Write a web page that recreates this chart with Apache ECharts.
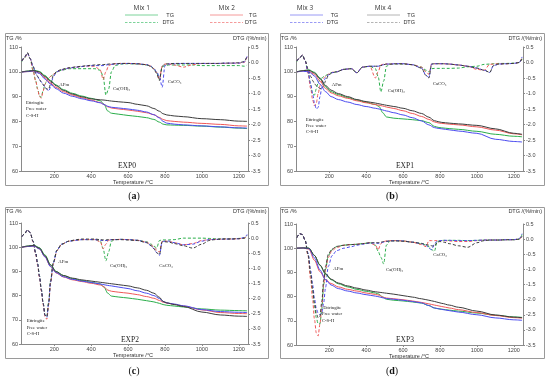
<!DOCTYPE html>
<html><head><meta charset="utf-8">
<script src="https://cdn.jsdelivr.net/npm/echarts@6/dist/echarts.min.js"></script>
<style>html,body{margin:0;padding:0;background:#fff}#c{width:550px;height:379px}</style>
</head><body><div id="c"></div>
<script>
// ---------- data ----------
const tgTemps = [25, 60, 90, 120, 150, 180, 210, 250, 300, 350, 400, 450, 470, 490, 510, 550, 600, 650, 700, 740, 770, 790, 810, 850, 900, 1000, 1100, 1200, 1245];
const dtgTemps = [25, 40, 55, 70, 85, 100, 110, 120, 130, 140, 150, 160, 170, 180, 195, 215, 240, 280, 320, 350, 380, 420, 450, 465, 480, 495, 510, 530, 560, 600, 650, 700, 725, 740, 755, 770, 785, 800, 820, 850, 900, 950, 1000, 1040, 1070, 1090, 1120, 1160, 1200, 1230, 1245];
const xTickValues = [200, 400, 600, 800, 1000, 1200];
const mixNames = ['Mix 1', 'Mix 2', 'Mix 3', 'Mix 4'];
const panelNames = ['EXP0', 'EXP1', 'EXP2', 'EXP3'];
const panelCaptions = ['a', 'b', 'c', 'd'];

// EXP0
const TG_EXP0_MIX1 = [99.9, 100.3, 100.7, 100.1, 98.5, 96.5, 94.7, 92.8, 91.3, 90.2, 89.3, 88.3, 86.9, 84.2, 83.3, 82.9, 82.4, 82.0, 81.5, 80.8, 79.7, 78.9, 78.6, 78.5, 78.4, 78.1, 77.7, 77.3, 77.1];
const TG_EXP0_MIX2 = [99.9, 100.1, 100.3, 99.5, 97.6, 95.5, 93.7, 92.0, 90.6, 89.5, 88.6, 87.6, 86.8, 85.9, 85.4, 85.0, 84.6, 84.1, 83.5, 82.7, 81.6, 80.8, 80.3, 80.0, 79.7, 79.2, 78.8, 78.2, 78.1];
const TG_EXP0_MIX3 = [99.9, 100.1, 100.4, 99.3, 97.1, 95.0, 93.2, 91.4, 90.1, 89.1, 88.3, 87.5, 86.8, 86.1, 85.7, 85.4, 85.0, 84.5, 83.8, 82.7, 81.4, 80.0, 79.3, 78.9, 78.6, 78.2, 77.8, 77.4, 77.3];
const TG_EXP0_MIX4 = [100, 100.3, 100.5, 99.9, 98.1, 96.2, 94.4, 92.5, 91.0, 89.9, 89.1, 88.7, 88.6, 88.4, 88.2, 87.9, 87.6, 86.9, 86.3, 85.2, 84.1, 83.1, 82.6, 82.2, 81.9, 81.1, 80.7, 80.1, 80.0];
const DTG_EXP0_MIX1 = [0.03, 0.15, 0.30, 0.12, -0.25, -0.6, -0.85, -1.08, -1.12, -0.9,
  -0.7, -0.58, -0.5, -0.45, -0.38, -0.3, -0.25, -0.2, -0.2, -0.2,
  -0.2, -0.2, -0.25, -0.45, -1.05, -0.85, -0.3, -0.1, -0.05, -0.04,
  -0.05, -0.08, -0.13, -0.2, -0.32, -0.55, -0.15, -0.1, -0.08, -0.08,
  -0.08, -0.08, -0.1, -0.1, -0.1, -0.1, -0.1, -0.1, -0.1, -0.12, -0.08];
const DTG_EXP0_MIX2 = [0.05, 0.15, 0.30, 0.12, -0.25, -0.6, -0.85, -1.1, -1.15, -0.92,
  -0.7, -0.58, -0.5, -0.45, -0.38, -0.3, -0.24, -0.18, -0.15, -0.13,
  -0.12, -0.12, -0.25, -0.55, -0.3, -0.1, -0.06, -0.04, -0.03, -0.03,
  -0.04, -0.07, -0.12, -0.2, -0.32, -0.55, -0.12, -0.05, -0.05, -0.08,
  -0.15, -0.07, -0.03, -0.03, -0.03, -0.03, -0.03, -0.02, -0.02, 0.0, 0.18];
const DTG_EXP0_MIX3 = [0.05, 0.18, 0.30, 0.12, -0.12, -0.35, -0.45, -0.55, -0.63, -0.7,
  -0.78, -0.86, -0.92, -0.8, -0.45, -0.3, -0.24, -0.18, -0.15, -0.13,
  -0.11, -0.1, -0.1, -0.1, -0.08, -0.07, -0.06, -0.05, -0.04, -0.03,
  -0.04, -0.07, -0.12, -0.2, -0.3, -0.45, -0.8, -0.1, -0.05, -0.04,
  -0.03, -0.03, -0.03, -0.03, -0.03, -0.03, -0.02, -0.02, -0.02, 0.02, 0.2];
const DTG_EXP0_MIX4 = [0.05, 0.18, 0.32, 0.12, -0.12, -0.35, -0.45, -0.55, -0.63, -0.72,
  -0.8, -0.86, -0.85, -0.7, -0.42, -0.28, -0.22, -0.17, -0.14, -0.12,
  -0.1, -0.08, -0.07, -0.07, -0.06, -0.05, -0.05, -0.04, -0.03, -0.03,
  -0.04, -0.07, -0.13, -0.22, -0.35, -0.58, -0.12, -0.05, -0.04, -0.03,
  -0.03, -0.03, -0.03, -0.03, -0.03, -0.03, -0.02, -0.02, -0.01, 0.03, 0.22];

// EXP1
const TG_EXP1_MIX1 = [100, 100.5, 100.8, 99.8, 97.5, 94.0, 92.0, 90.8, 89.6, 88.6, 87.7, 86.8, 86.0, 83.5, 81.8, 81.3, 81.0, 80.7, 80.3, 79.5, 78.0, 77.6, 77.4, 77.1, 76.8, 76.0, 74.8, 74.0, 73.8];
const TG_EXP1_MIX2 = [100, 100.3, 100.2, 99.0, 96.3, 93.3, 91.5, 90.3, 89.3, 88.3, 87.5, 86.8, 86.5, 86.2, 85.8, 85.2, 84.3, 83.2, 82.0, 80.8, 79.8, 79.4, 79.2, 78.9, 78.6, 77.8, 76.5, 75.0, 74.6];
const TG_EXP1_MIX3 = [100, 100.2, 100.0, 98.3, 95.0, 92.0, 90.0, 88.8, 87.8, 86.8, 86.0, 85.3, 85.0, 84.6, 84.2, 83.5, 82.6, 81.5, 80.2, 78.6, 77.5, 77.2, 77.0, 76.6, 76.1, 75.2, 72.8, 71.9, 71.7];
const TG_EXP1_MIX4 = [100, 100.5, 100.6, 99.5, 97.2, 94.5, 92.6, 91.2, 90.0, 88.8, 88.0, 87.4, 87.1, 86.8, 86.5, 86.0, 85.3, 84.3, 83.2, 81.7, 80.3, 79.9, 79.6, 79.3, 79.0, 78.4, 77.0, 75.2, 74.8];
const DTG_EXP1_MIX1 = [0.03, 0.15, 0.24, 0.05, -0.3, -0.75, -1.02, -1.05, -0.85, -0.65,
  -0.55, -0.5, -0.45, -0.42, -0.38, -0.32, -0.3, -0.22, -0.2, -0.33,
  -0.15, -0.12, -0.2, -0.45, -0.95, -0.6, -0.12, -0.06, -0.05, -0.05,
  -0.07, -0.15, -0.25, -0.3, -0.2, -0.19, -0.19, -0.19, -0.19, -0.19,
  -0.18, -0.14, -0.12, -0.06, -0.05, -0.04, -0.03, -0.03, -0.02, 0.0, 0.1];
const DTG_EXP1_MIX2 = [0.05, 0.15, 0.24, 0.05, -0.35, -0.85, -1.2, -1.4, -1.3, -1.0,
  -0.75, -0.6, -0.5, -0.45, -0.38, -0.32, -0.3, -0.22, -0.2, -0.33,
  -0.15, -0.12, -0.5, -0.3, -0.08, -0.05, -0.05, -0.05, -0.04, -0.04,
  -0.07, -0.15, -0.3, -0.38, -0.05, -0.04, -0.04, -0.04, -0.04, -0.05,
  -0.08, -0.12, -0.22, -0.25, -0.06, -0.05, -0.04, -0.04, -0.03, 0.0, 0.15];
const DTG_EXP1_MIX3 = [0.05, 0.15, 0.24, 0.05, -0.3, -0.7, -1.0, -1.3, -1.5, -1.45,
  -1.1, -0.8, -0.6, -0.5, -0.4, -0.33, -0.3, -0.22, -0.2, -0.33,
  -0.15, -0.12, -0.12, -0.12, -0.1, -0.07, -0.05, -0.05, -0.04, -0.04,
  -0.07, -0.18, -0.42, -0.48, -0.05, -0.04, -0.04, -0.04, -0.04, -0.05,
  -0.08, -0.12, -0.18, -0.25, -0.32, -0.1, -0.05, -0.04, -0.03, 0.0, 0.18];
const DTG_EXP1_MIX4 = [0.05, 0.15, 0.24, 0.05, -0.2, -0.45, -0.58, -0.68, -0.75, -0.8,
  -0.84, -0.85, -0.75, -0.6, -0.42, -0.33, -0.3, -0.22, -0.2, -0.33,
  -0.15, -0.12, -0.12, -0.12, -0.1, -0.07, -0.05, -0.05, -0.04, -0.04,
  -0.07, -0.18, -0.42, -0.5, -0.05, -0.04, -0.04, -0.04, -0.04, -0.05,
  -0.08, -0.12, -0.18, -0.25, -0.32, -0.1, -0.05, -0.04, -0.03, 0.0, 0.15];

// EXP2
const TG_EXP2_MIX1 = [100, 100.5, 100.8, 99.8, 96.8, 92.8, 90.0, 88.3, 87.0, 86.2, 85.5, 84.8, 83.5, 81.0, 79.8, 79.4, 79.0, 78.5, 77.9, 77.4, 76.8, 76.3, 76.0, 75.7, 75.3, 74.5, 74.0, 73.8, 73.7];
const TG_EXP2_MIX2 = [100, 100.3, 100.5, 99.3, 96.0, 92.0, 89.4, 87.7, 86.5, 85.8, 85.1, 84.4, 83.6, 82.3, 81.8, 81.4, 81.0, 80.4, 79.6, 78.9, 78.0, 77.3, 76.9, 76.4, 75.7, 74.1, 73.0, 72.6, 72.5];
const TG_EXP2_MIX3 = [100, 100.3, 100.5, 99.3, 96.0, 92.0, 89.5, 87.8, 86.7, 86.0, 85.4, 84.8, 84.5, 84.2, 84.0, 83.5, 82.9, 82.0, 81.0, 80.0, 78.8, 77.6, 77.0, 76.5, 75.8, 74.2, 73.4, 73.1, 73.0];
const TG_EXP2_MIX4 = [100, 100.5, 100.7, 99.6, 96.5, 92.6, 89.9, 88.3, 87.2, 86.5, 86.0, 85.5, 85.3, 85.1, 84.9, 84.5, 84.0, 83.2, 82.2, 81.0, 79.3, 77.6, 77.0, 76.3, 75.5, 73.2, 72.0, 71.5, 71.4];
const DTG_EXP2_MIX1 = [0.05, 0.15, 0.27, 0.18, -0.1, -0.5, -0.85, -1.25, -1.7, -2.15,
  -2.55, -2.6, -2.1, -1.4, -0.8, -0.4, -0.2, -0.1, -0.07, -0.05,
  -0.05, -0.05, -0.1, -0.35, -0.75, -0.45, -0.1, -0.05, -0.04, -0.05,
  -0.07, -0.12, -0.2, -0.26, -0.33, -0.08, -0.06, -0.06, -0.06, -0.05,
  0.0, 0.0, 0.0, -0.01, -0.02, -0.02, -0.02, -0.02, -0.01, 0.0, 0.05];
const DTG_EXP2_MIX2 = [0.05, 0.15, 0.27, 0.18, -0.12, -0.55, -0.9, -1.3, -1.75, -2.2,
  -2.6, -2.68, -2.2, -1.5, -0.85, -0.42, -0.2, -0.1, -0.07, -0.05,
  -0.05, -0.05, -0.12, -0.35, -0.2, -0.07, -0.05, -0.05, -0.04, -0.05,
  -0.07, -0.13, -0.22, -0.3, -0.4, -0.46, -0.1, -0.1, -0.1, -0.15,
  -0.22, -0.18, -0.08, -0.05, -0.04, -0.04, -0.03, -0.03, -0.02, 0.0, 0.1];
const DTG_EXP2_MIX3 = [0.05, 0.15, 0.27, 0.18, -0.1, -0.5, -0.85, -1.25, -1.7, -2.15,
  -2.55, -2.62, -2.15, -1.45, -0.82, -0.4, -0.2, -0.1, -0.07, -0.05,
  -0.05, -0.05, -0.07, -0.08, -0.08, -0.07, -0.05, -0.05, -0.04, -0.05,
  -0.07, -0.14, -0.25, -0.35, -0.48, -0.57, -0.12, -0.1, -0.1, -0.15,
  -0.22, -0.2, -0.1, -0.05, -0.04, -0.04, -0.03, -0.03, -0.02, 0.02, 0.12];
const DTG_EXP2_MIX4 = [0.05, 0.15, 0.27, 0.18, -0.1, -0.5, -0.85, -1.25, -1.7, -2.15,
  -2.55, -2.6, -2.15, -1.45, -0.82, -0.4, -0.2, -0.1, -0.05, -0.03,
  -0.03, -0.03, -0.05, -0.06, -0.06, -0.05, -0.05, -0.05, -0.05, -0.06,
  -0.08, -0.15, -0.25, -0.35, -0.48, -0.55, -0.12, -0.12, -0.13, -0.18,
  -0.25, -0.33, -0.2, -0.08, -0.05, -0.04, -0.03, -0.03, -0.02, 0.0, 0.08];

// EXP3
const TG_EXP3_MIX1 = [100, 100.1, 100, 97.0, 93.0, 89.3, 87.0, 85.3, 84.0, 83.0, 82.2, 81.5, 81.0, 79.8, 78.9, 78.5, 78.2, 77.8, 77.3, 76.3, 75.3, 75.0, 74.8, 74.4, 74.0, 73.2, 72.3, 71.6, 71.4];
const TG_EXP3_MIX2 = [100, 100.1, 99.6, 95.0, 90.3, 87.0, 85.4, 84.0, 83.0, 82.3, 81.5, 80.9, 80.6, 79.8, 79.4, 79.1, 78.7, 78.2, 77.6, 77.0, 76.5, 76.2, 75.9, 75.3, 74.6, 73.4, 72.2, 71.3, 71.1];
const TG_EXP3_MIX3 = [100, 100.1, 99.8, 96.0, 91.0, 87.0, 84.8, 83.3, 82.3, 81.5, 80.8, 80.2, 79.9, 79.5, 79.2, 78.9, 78.5, 78.0, 77.4, 76.3, 75.3, 75.0, 74.7, 74.2, 73.6, 72.5, 71.2, 70.4, 70.2];
const TG_EXP3_MIX4 = [100, 100.1, 100, 97.0, 93.0, 89.5, 87.2, 85.6, 84.4, 83.5, 82.7, 82.0, 81.8, 81.6, 81.4, 81.0, 80.4, 79.8, 79.1, 78.5, 78.0, 77.6, 77.2, 76.5, 75.6, 74.0, 72.4, 71.5, 71.3];
const DTG_EXP3_MIX1 = [0.05, 0.18, 0.15, -0.05, -0.5, -1.2, -1.7, -2.2, -2.6, -2.8,
  -2.8, -2.3, -1.5, -1.0, -0.55, -0.35, -0.25, -0.2, -0.18, -0.17,
  -0.15, -0.12, -0.2, -0.4, -0.6, -0.82, -0.2, -0.06, -0.05, -0.06,
  -0.1, -0.15, -0.2, -0.25, -0.35, -0.4, -0.08, -0.05, -0.04, -0.04,
  -0.04, -0.05, -0.04, -0.03, -0.03, -0.03, -0.03, -0.02, -0.02, 0.0, 0.15];
const DTG_EXP3_MIX2 = [0.05, 0.18, 0.15, -0.05, -0.55, -1.35, -2.0, -2.65, -3.1, -3.2,
  -2.8, -2.2, -1.5, -1.0, -0.6, -0.38, -0.28, -0.2, -0.18, -0.17,
  -0.15, -0.12, -0.2, -0.35, -0.15, -0.08, -0.06, -0.05, -0.05, -0.06,
  -0.1, -0.18, -0.25, -0.05, -0.05, -0.05, -0.05, -0.05, -0.05, -0.06,
  -0.08, -0.08, -0.05, -0.03, -0.03, -0.03, -0.03, -0.02, -0.02, 0.0, 0.12];
const DTG_EXP3_MIX3 = [0.05, 0.18, 0.15, -0.05, -0.45, -1.05, -1.5, -1.95, -2.3, -2.45,
  -2.5, -2.45, -2.1, -1.6, -0.9, -0.55, -0.38, -0.3, -0.25, -0.2,
  -0.17, -0.13, -0.13, -0.14, -0.12, -0.1, -0.08, -0.06, -0.05, -0.06,
  -0.1, -0.15, -0.2, -0.3, -0.35, -0.15, -0.07, -0.05, -0.04, -0.04,
  -0.05, -0.05, -0.04, -0.03, -0.03, -0.03, -0.03, -0.02, -0.02, 0.02, 0.18];
const DTG_EXP3_MIX4 = [0.05, 0.18, 0.15, -0.05, -0.5, -1.15, -1.65, -2.1, -2.45, -2.6,
  -2.55, -2.05, -1.35, -0.9, -0.5, -0.33, -0.24, -0.2, -0.18, -0.17,
  -0.15, -0.12, -0.12, -0.12, -0.1, -0.08, -0.07, -0.06, -0.06, -0.07,
  -0.1, -0.14, -0.18, -0.2, -0.22, -0.24, -0.1, -0.08, -0.1, -0.15,
  -0.22, -0.27, -0.12, -0.05, -0.03, -0.03, -0.03, -0.02, -0.02, 0.0, 0.1];

// ---------- chart ----------
const tgSets = [
  [TG_EXP0_MIX1, TG_EXP0_MIX2, TG_EXP0_MIX3, TG_EXP0_MIX4],
  [TG_EXP1_MIX1, TG_EXP1_MIX2, TG_EXP1_MIX3, TG_EXP1_MIX4],
  [TG_EXP2_MIX1, TG_EXP2_MIX2, TG_EXP2_MIX3, TG_EXP2_MIX4],
  [TG_EXP3_MIX1, TG_EXP3_MIX2, TG_EXP3_MIX3, TG_EXP3_MIX4]
];
const dtgSets = [
  [DTG_EXP0_MIX1, DTG_EXP0_MIX2, DTG_EXP0_MIX3, DTG_EXP0_MIX4],
  [DTG_EXP1_MIX1, DTG_EXP1_MIX2, DTG_EXP1_MIX3, DTG_EXP1_MIX4],
  [DTG_EXP2_MIX1, DTG_EXP2_MIX2, DTG_EXP2_MIX3, DTG_EXP2_MIX4],
  [DTG_EXP3_MIX1, DTG_EXP3_MIX2, DTG_EXP3_MIX3, DTG_EXP3_MIX4]
];
const colors = ['#2aae4a', '#f05858', '#4c4cf0', '#3c3c3c'];
const legendColors = ['#7dd39a', '#f59a9a', '#9a9af5', '#b4b4b4'];
const axisColor = '#8a8a8a';
const tickFont = 'Liberation Sans';
const serif = 'Liberation Serif';

const gridBoxes = [
  {left: 21, top: 47, width: 227, height: 124},
  {left: 296, top: 47, width: 227, height: 124},
  {left: 21, top: 223, width: 227, height: 121},
  {left: 296, top: 224, width: 227, height: 121}
];

const xAxes = [], yAxes = [], series = [];
gridBoxes.forEach((g, p) => {
  xAxes.push({
    type: 'value', gridIndex: p, min: 20, max: 1250,
    axisLine: {show: true, onZero: false, lineStyle: {color: axisColor, width: 1}},
    axisTick: {show: true, customValues: xTickValues, length: 2, lineStyle: {color: axisColor}},
    axisLabel: {show: true, customValues: xTickValues, fontSize: 5.5, color: '#444', margin: 2.5, fontFamily: tickFont,
      formatter: v => String(v)},
    splitLine: {show: false}
  });
  yAxes.push({
    type: 'value', gridIndex: p, position: 'left', min: 60, max: 110, interval: 10,
    axisLine: {show: true, onZero: false, lineStyle: {color: axisColor, width: 1}},
    axisTick: {show: true, length: 2, lineStyle: {color: axisColor}},
    axisLabel: {fontSize: 5.5, color: '#444', margin: 3, fontFamily: tickFont, formatter: v => String(v)},
    splitLine: {show: false}
  });
  yAxes.push({
    type: 'value', gridIndex: p, position: 'right', min: -3.5, max: 0.5, interval: 0.5,
    axisLine: {show: true, onZero: false, lineStyle: {color: axisColor, width: 1}},
    axisTick: {show: true, length: 2, lineStyle: {color: axisColor}},
    axisLabel: {fontSize: 5.5, color: '#444', margin: 3, fontFamily: tickFont,
      formatter: v => v.toFixed(1)},
    splitLine: {show: false}
  });
  for (let m = 0; m < 4; m++) {
    series.push({
      name: mixNames[m] + ' DTG ' + panelNames[p], type: 'line',
      xAxisIndex: p, yAxisIndex: 2 * p + 1,
      data: dtgTemps.map((t, k) => [t, dtgSets[p][m][k]]),
      showSymbol: false, smooth: 0.3, smoothMonotone: 'x', silent: true,
      lineStyle: {width: 1, color: colors[m], type: [3, 2]}, z: 2 + m
    });
  }
  for (let m = 0; m < 4; m++) {
    series.push({
      name: mixNames[m] + ' TG ' + panelNames[p], type: 'line',
      xAxisIndex: p, yAxisIndex: 2 * p,
      data: tgTemps.map((t, k) => [t, tgSets[p][m][k]]),
      showSymbol: false, smooth: 0.3, smoothMonotone: 'x', silent: true,
      lineStyle: {width: 1, color: colors[m]}, z: 6 + m
    });
  }
});

// ---------- decorations ----------
function txt(x, y, text, size, family, align, color, weight) {
  return {type: 'text', x: x, y: y, silent: true, z: 100,
    style: {text: text, fontSize: size, fontFamily: family, fill: color || '#222',
      align: align || 'left', verticalAlign: 'middle', fontWeight: weight || 'normal'}};
}
const graphics = [];
const boxes = [[5.5, 33.5, 263, 152], [280.5, 33.5, 264, 152], [5.5, 207.5, 263, 151], [280.5, 207.5, 264, 151]];
boxes.forEach(b => graphics.push({type: 'rect', silent: true, z: 1,
  shape: {x: b[0], y: b[1], width: b[2], height: b[3]},
  style: {fill: 'none', stroke: '#9a9a9a', lineWidth: 1}}));

const panelText = [
  {tg: 38.5, temp: 182.5, ett: [26, 102.7], afm: [59.3, 84.5], caoh: [113, 89], caco: [167.7, 81.7], exp: [127, 166.5], cap: [134, 196]},
  {tg: 38.5, temp: 182.5, ett: [305.7, 119.3], afm: [331.7, 85], caoh: [387.7, 90.7], caco: [432.7, 83.3], exp: [405, 166.5], cap: [392, 196]},
  {tg: 211, temp: 355.5, ett: [26.7, 321], afm: [58.3, 261.7], caoh: [110, 266], caco: [159.3, 266], exp: [130, 340.3], cap: [134, 371.5]},
  {tg: 211.5, temp: 356, ett: [323.3, 307.7], afm: [333.3, 269], caoh: [386, 270], caco: [433.3, 255], exp: [405, 340.3], cap: [392, 371.5]}
];
panelText.forEach((t, p) => {
  const lx = p % 2 === 0 ? 6 : 281;
  const rx = p % 2 === 0 ? 266.5 : 542;
  const cx = p % 2 === 0 ? 133 : 409;
  graphics.push(txt(lx, t.tg, 'TG /%', 5.5, tickFont, 'left', '#333'));
  graphics.push(txt(rx, t.tg, 'DTG /(%/min)', 5.5, tickFont, 'right', '#333'));
  graphics.push(txt(cx, t.temp, 'Temperature /°C', 5.5, tickFont, 'center', '#333'));
  graphics.push(txt(t.ett[0], t.ett[1], 'Ettringite', 4.8, serif, 'left', '#222'));
  graphics.push(txt(t.ett[0] - (p === 3 ? 1.5 : 0), t.ett[1] + 6.3, 'Free water', 4.8, serif, 'left', '#222'));
  graphics.push(txt(t.ett[0] - (p === 3 ? 1.5 : 0), t.ett[1] + 12.6, 'C-S-H', 4.8, serif, 'left', '#222'));
  graphics.push(txt(t.afm[0], t.afm[1], 'AFm', 4.8, serif, 'left', '#222'));
  graphics.push(txt(t.caoh[0], t.caoh[1], 'Ca(OH)₂', 4.8, serif, 'left', '#222'));
  graphics.push(txt(t.caco[0], t.caco[1], 'CaCO₃', 4.8, serif, 'left', '#222'));
  graphics.push(txt(t.exp[0], t.exp[1], panelNames[p], 7.5, serif, 'center', '#222'));
  graphics.push({type: 'text', x: t.cap[0], y: t.cap[1], silent: true, z: 100,
    style: {text: '({b|' + panelCaptions[p] + '})', fontSize: 10, fontFamily: serif, fill: '#111',
      align: 'center', verticalAlign: 'middle',
      rich: {b: {fontSize: 10, fontFamily: serif, fontWeight: 'bold', fill: '#111'}}}});
});

// legend
const legendPos = [
  {title: 141.7, x1: 125, x2: 158, lab: 174},
  {title: 226.7, x1: 210, x2: 243, lab: 256.7},
  {title: 305, x1: 290, x2: 323, lab: 338.3},
  {title: 383, x1: 367, x2: 400, lab: 415}
];
legendPos.forEach((l, m) => {
  graphics.push(txt(l.title, 8.5, mixNames[m], 6.5, 'Open Sans', 'center', '#333'));
  graphics.push({type: 'line', silent: true, shape: {x1: l.x1, y1: 15, x2: l.x2, y2: 15},
    style: {stroke: legendColors[m], lineWidth: 1}});
  graphics.push({type: 'line', silent: true, shape: {x1: l.x1, y1: 22.5, x2: l.x2, y2: 22.5},
    style: {stroke: legendColors[m], lineWidth: 1, lineDash: [2.5, 1.5]}});
  graphics.push(txt(l.lab, 15, 'TG', 5.5, tickFont, 'right', '#333'));
  graphics.push(txt(l.lab, 22.5, 'DTG', 5.5, tickFont, 'right', '#333'));
});

const chart = echarts.init(document.getElementById('c'), null, {renderer: 'canvas'});
chart.setOption({
  animation: false,
  backgroundColor: '#fff',
  grid: gridBoxes,
  xAxis: xAxes,
  yAxis: yAxes,
  series: series,
  graphic: graphics
});
</script>
</body></html>
